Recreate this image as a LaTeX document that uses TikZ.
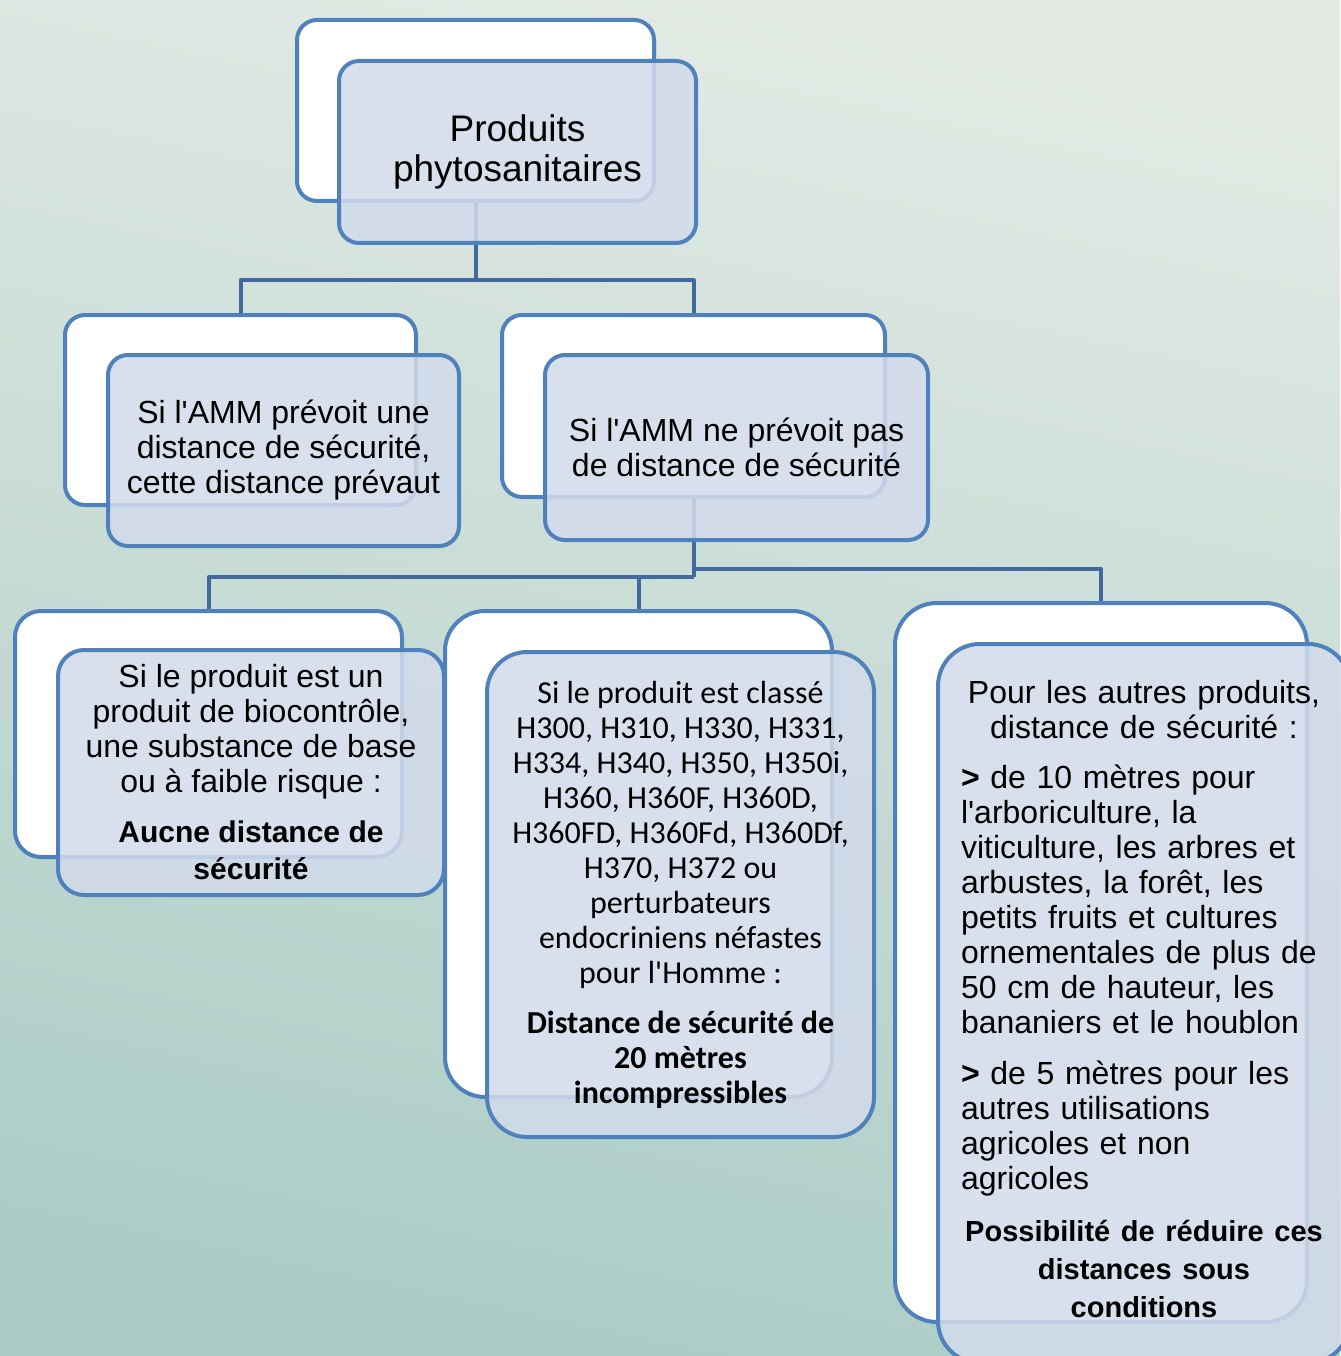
\documentclass[tikz,border=0pt]{standalone}
\usepackage{fontspec}
\setmainfont{Liberation Sans}[Ligatures=TeXOff]
\newfontfamily\calfont{Carlito}[Ligatures=TeXOff]
\usetikzlibrary{calc}
\definecolor{bgtop}{HTML}{E3EAE4}
\definecolor{bgbot}{HTML}{ABCDC6}
\definecolor{boxblue}{HTML}{4F81BD}
\definecolor{connblue}{HTML}{41699C}
\definecolor{frontfill}{HTML}{D3DBEB}
\tikzset{
  backbox/.style={draw=boxblue, line width=4pt, fill=white, rectangle, inner sep=0pt, anchor=north west},
  frontbox/.style={draw=boxblue, line width=4pt, fill=frontfill, fill opacity=0.86, text opacity=1, rectangle, inner sep=0pt, anchor=north west, text=black},
  conn/.style={draw=connblue, line width=4pt, line join=round},
  reg/.style={font=\fontsize{32}{35}\selectfont},
}
\begin{document}
\begin{tikzpicture}[x=1pt, y=-1pt]
\useasboundingbox (0,0) rectangle (1340,1356);
\shade[top color=bgtop, bottom color=bgbot, shading angle=-12] (0,0) rectangle (1340,1356);

% back boxes
\node[backbox, minimum width=357pt, minimum height=181pt, rounded corners=20pt] (tb) at (295,18) {};
\node[backbox, minimum width=351pt, minimum height=190pt, rounded corners=20pt] (lab) at (63,313) {};
\node[backbox, minimum width=383pt, minimum height=182pt, rounded corners=20pt] (rab) at (500,313) {};
\node[backbox, minimum width=387pt, minimum height=246pt, rounded corners=26pt] (l3ab) at (13,609) {};
\node[backbox, minimum width=387pt, minimum height=486pt, rounded corners=40pt] (l3bb) at (443,609) {};
\node[backbox, minimum width=412pt, minimum height=719pt, rounded corners=42pt] (l3cb) at (893,601) {};

% connectors (under the front boxes)
\draw[conn] (tb.south) -- ++(0,77) coordinate (j1);
\draw[conn] (j1) -| (lab.north);
\draw[conn] (j1) -| (rab.north);
\draw[conn] (rab.south) -- ++(0,78) coordinate (j2);
\coordinate (j3) at ($(rab.south)+(0,70)$);
\draw[conn] (j2) -| (l3ab.north);
\draw[conn] (j2) -| (l3bb.north);
\draw[conn] (j3) -| (l3cb.north);

% front boxes
\node[frontbox, minimum width=357pt, minimum height=182pt, rounded corners=20pt, align=flush center,
      font=\fontsize{37}{40}\selectfont] (tf) at (337,59) {Produits\\phytosanitaires};

\node[frontbox, reg, minimum width=351pt, minimum height=191pt, rounded corners=20pt, align=flush center] (laf) at (106,353)
  {Si l'AMM prévoit une\\distance de sécurité,\\cette distance prévaut};

\node[frontbox, reg, minimum width=383pt, minimum height=185pt, rounded corners=20pt, align=flush center] (raf) at (543,353)
  {Si l'AMM ne prévoit pas\\de distance de sécurité};

\node[frontbox, reg, minimum width=386pt, minimum height=245pt, rounded corners=26pt, align=flush center, text width=370pt] (l3af) at (56,648)
  {Si le produit est un\\produit de biocontrôle,\\une substance de base\\ou à faible risque :\par\vspace{13pt}%
   {\fontsize{30}{37}\selectfont\bfseries Aucne distance de\\sécurité\par}};

\node[frontbox, minimum width=387pt, minimum height=485pt, rounded corners=40pt, align=flush center, text width=375pt,
      font=\calfont\fontsize{32}{35}\selectfont] (l3bf) at (485,650)
  {Si le produit est classé\\H300, H310, H330, H331,\\H334, H340, H350, H350i,\\H360, H360F, H360D,\\H360FD, H360Fd, H360Df,\\H370, H372 ou\\perturbateurs\\endocriniens néfastes\\pour l'Homme :\par\vspace{15pt}%
   {\bfseries Distance de sécurité de\\20 mètres\\incompressibles\par}};

\node[frontbox, reg, minimum width=412pt, minimum height=719pt, rounded corners=42pt, text width=366pt] (l3cf) at (936,642)
  {\parindent=0pt
   {\centering Pour les autres produits,\\distance de sécurité :\par}\vspace{15pt}%
   \raggedright
   \textbf{>} de 10 mètres pour\\l'arboriculture, la\\viticulture, les arbres et\\arbustes, la forêt, les\\petits fruits et cultures\\ornementales de plus de\\50 cm de hauteur, les\\bananiers et le houblon\par\vspace{16pt}%
   \textbf{>} de 5 mètres pour les\\autres utilisations\\agricoles et non\\agricoles\par\vspace{14pt}%
   {\centering\fontsize{29}{38}\selectfont\bfseries \makebox[366pt][c]{Possibilité de réduire ces}\\distances sous\\conditions\par}\vspace*{8pt}};
\end{tikzpicture}
\end{document}
